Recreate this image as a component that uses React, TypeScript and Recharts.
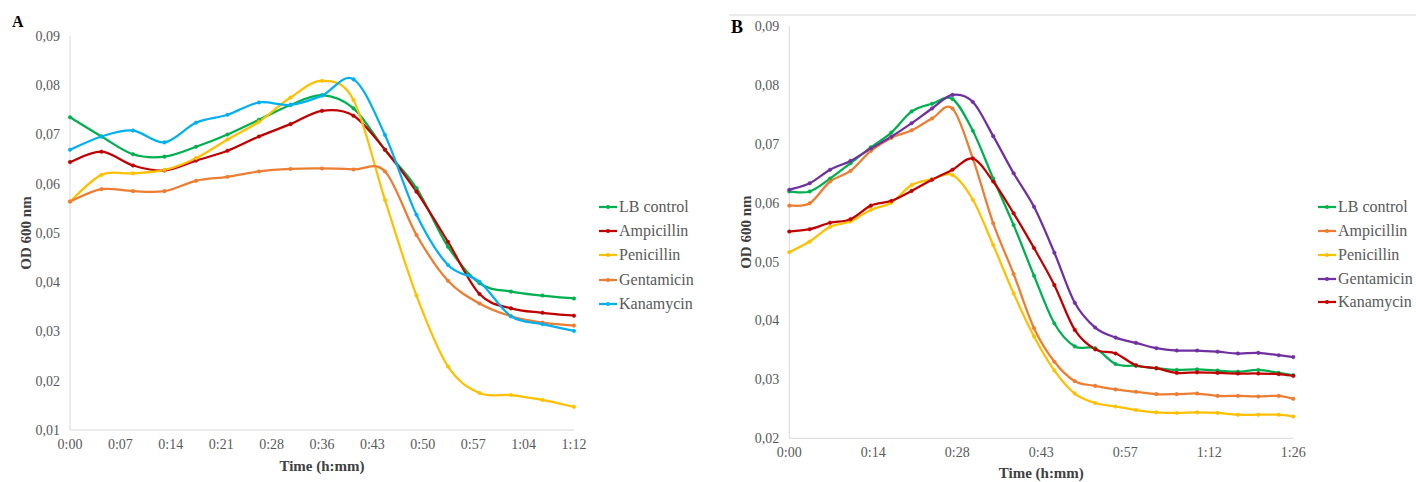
import React from 'react';
import { LineChart, Line, XAxis, YAxis } from 'recharts';

// panel A: sampling every 4.5 min
const timeA = [0, 4.5, 9, 13.5, 18, 22.5, 27, 31.5, 36, 40.5, 45, 49.5, 54, 58.5, 63, 67.5, 72];
const lbControlA = [0.0735, 0.0696, 0.066, 0.0655, 0.0675, 0.07, 0.073, 0.076, 0.078, 0.0753, 0.0669, 0.0591, 0.0472, 0.0398, 0.0381, 0.0373, 0.0367];
const ampicillinA = [0.0644, 0.0665, 0.0637, 0.0627, 0.0647, 0.0667, 0.0696, 0.0721, 0.0748, 0.0738, 0.0669, 0.0584, 0.0482, 0.0376, 0.0347, 0.0338, 0.0332];
const penicillinA = [0.0564, 0.0618, 0.0621, 0.0628, 0.0652, 0.069, 0.0726, 0.0775, 0.0809, 0.077, 0.0567, 0.0373, 0.0229, 0.0175, 0.0171, 0.0161, 0.0147];
const gentamicinA = [0.0564, 0.0589, 0.0585, 0.0585, 0.0606, 0.0614, 0.0625, 0.063, 0.0631, 0.0629, 0.0625, 0.0496, 0.0403, 0.0357, 0.0331, 0.0318, 0.0312];
const kanamycinA = [0.0669, 0.0696, 0.0708, 0.0684, 0.0724, 0.074, 0.0765, 0.076, 0.0779, 0.0812, 0.0699, 0.0537, 0.0435, 0.0401, 0.0331, 0.0315, 0.0301];
const xTicksA = [0, 7.2, 14.4, 21.6, 28.8, 36, 43.2, 50.4, 57.6, 64.8, 72];
const xTickLabelsA = ['0:00', '0:07', '0:14', '0:21', '0:28', '0:36', '0:43', '0:50', '0:57', '1:04', '1:12'];
const yTicksA = [0.01, 0.02, 0.03, 0.04, 0.05, 0.06, 0.07, 0.08, 0.09];

// panel B: sampling every 3.5 min
const timeB = [0, 3.5, 7, 10.5, 14, 17.5, 21, 24.5, 28, 31.5, 35, 38.5, 42, 45.5, 49, 52.5, 56, 59.5, 63, 66.5, 70, 73.5, 77, 80.5, 84, 86.5];
const lbControlB = [0.0619, 0.0619, 0.0641, 0.0667, 0.0694, 0.0719, 0.0755, 0.0768, 0.0776, 0.0722, 0.0641, 0.0562, 0.0476, 0.0395, 0.0356, 0.0353, 0.0326, 0.0323, 0.0319, 0.0316, 0.0317, 0.0315, 0.0313, 0.0316, 0.0311, 0.0307];
const ampicillinB = [0.0595, 0.0599, 0.0636, 0.0654, 0.0688, 0.071, 0.0723, 0.0743, 0.076, 0.0675, 0.0565, 0.0479, 0.0387, 0.033, 0.0297, 0.0289, 0.0283, 0.0279, 0.0275, 0.0275, 0.0276, 0.0272, 0.0272, 0.0271, 0.0272, 0.0267];
const penicillinB = [0.0516, 0.0534, 0.0559, 0.0568, 0.0588, 0.06, 0.063, 0.064, 0.0647, 0.0605, 0.0528, 0.0446, 0.0373, 0.0315, 0.0276, 0.026, 0.0254, 0.0248, 0.0244, 0.0243, 0.0244, 0.0243, 0.024, 0.024, 0.024, 0.0237];
const gentamicinB = [0.0622, 0.0633, 0.0656, 0.0671, 0.0692, 0.0712, 0.0735, 0.076, 0.0783, 0.0771, 0.0713, 0.065, 0.0593, 0.0515, 0.043, 0.0388, 0.0371, 0.0362, 0.0353, 0.0349, 0.0349, 0.0347, 0.0344, 0.0345, 0.0341, 0.0338];
const kanamycinB = [0.0551, 0.0555, 0.0566, 0.0572, 0.0595, 0.0603, 0.062, 0.0639, 0.0656, 0.0675, 0.0636, 0.0582, 0.0523, 0.046, 0.0384, 0.0351, 0.0344, 0.0324, 0.0319, 0.0311, 0.0312, 0.0311, 0.031, 0.031, 0.0309, 0.0306];
const xTicksB = [0, 14.42, 28.83, 43.25, 57.67, 72.08, 86.5];
const xTickLabelsB = ['0:00', '0:14', '0:28', '0:43', '0:57', '1:12', '1:26'];
const yTicksB = [0.02, 0.03, 0.04, 0.05, 0.06, 0.07, 0.08, 0.09];

const seriesNames = ['LB control', 'Ampicillin', 'Penicillin', 'Gentamicin', 'Kanamycin'];
const colorsA = ['#00B050', '#C00000', '#FFC000', '#ED7D31', '#00B0F0'];
const colorsB = ['#00B050', '#ED7D31', '#FFC000', '#7030A0', '#C00000'];

const keys = ['lb', 'amp', 'pen', 'gen', 'kan'];

const rowsA = timeA.map((t, i) => ({
  t, lb: lbControlA[i], amp: ampicillinA[i], pen: penicillinA[i], gen: gentamicinA[i], kan: kanamycinA[i],
}));
const rowsB = timeB.map((t, i) => ({
  t, lb: lbControlB[i], amp: ampicillinB[i], pen: penicillinB[i], gen: gentamicinB[i], kan: kanamycinB[i],
}));

const FONT = '"Liberation Serif", "Times New Roman", serif';
const GREY = '#595959';

// excel-like smoothed line (catmull-rom as bezier)
const excelCurve = (context: any) => {
  let pts: number[][] = [];
  return {
    areaStart() {},
    areaEnd() {},
    lineStart() { pts = []; },
    point(x: number, y: number) { pts.push([+x, +y]); },
    lineEnd() {
      const n = pts.length;
      if (!n) return;
      context.moveTo(pts[0][0], pts[0][1]);
      for (let i = 0; i < n - 1; i++) {
        const p0 = pts[Math.max(i - 1, 0)];
        const p1 = pts[i];
        const p2 = pts[i + 1];
        const p3 = pts[Math.min(i + 2, n - 1)];
        context.bezierCurveTo(
          p1[0] + (p2[0] - p0[0]) / 6, p1[1] + (p2[1] - p0[1]) / 6,
          p2[0] - (p3[0] - p1[0]) / 6, p2[1] - (p3[1] - p1[1]) / 6,
          p2[0], p2[1],
        );
      }
    },
  };
};

const fmtY = (v: number) => v.toFixed(2).replace('.', ',');

const tickStyle = { fontFamily: FONT, fontSize: 14, fill: GREY };
const titleStyle = { fontFamily: FONT, fontSize: 15, fontWeight: 700, fill: '#404040' };

interface PanelProps {
  rows: any[];
  colors: string[];
  xTicks: number[];
  xLabels: string[];
  yTicks: number[];
  left: number;
  width: number;
  margin: { top: number; right: number; left: number; bottom: number };
  xAxisHeight: number;
  xTitleOffset: number;
}

const Panel: React.FC<PanelProps> = ({ rows, colors, xTicks, xLabels, yTicks, left, width, margin, xAxisHeight, xTitleOffset }) => (
  <div style={{ position: 'absolute', left, top: 0 }}>
    <LineChart width={width} height={482} data={rows} margin={margin}>
      <XAxis
        dataKey="t"
        type="number"
        domain={[xTicks[0], xTicks[xTicks.length - 1]]}
        ticks={xTicks}
        tickFormatter={(v: number) => xLabels[xTicks.indexOf(v)] ?? ''}
        tickLine={false}
        tickMargin={3}
        axisLine={{ stroke: '#d9d9d9', strokeWidth: 1 }}
        tick={tickStyle}
        height={xAxisHeight}
        interval={0}
        label={{ value: 'Time (h:mm)', position: 'insideBottom', offset: xTitleOffset, style: titleStyle }}
      />
      <YAxis
        type="number"
        domain={[yTicks[0], yTicks[yTicks.length - 1]]}
        ticks={yTicks}
        tickFormatter={fmtY}
        tickLine={false}
        tickMargin={4}
        axisLine={{ stroke: '#d9d9d9', strokeWidth: 1 }}
        tick={tickStyle}
        width={60}
        interval={0}
        label={{ value: 'OD 600 nm', angle: -90, position: 'insideLeft', offset: 16, style: { ...titleStyle, textAnchor: 'middle' } }}
      />
      {keys.map((k, i) => (
        <Line
          key={k}
          dataKey={k}
          type={excelCurve as any}
          stroke={colors[i]}
          strokeWidth={2.25}
          dot={{ r: 1.8, fill: colors[i], stroke: colors[i], strokeWidth: 0.5 }}
          isAnimationActive={false}
        />
      ))}
    </LineChart>
  </div>
);

const LegendBox: React.FC<{ colors: string[]; left: number; tops: number[] }> = ({ colors, left, tops }) => (
  <>
    {seriesNames.map((name, i) => (
      <div
        key={name}
        style={{
          position: 'absolute', left, top: tops[i] - 10, height: 20, display: 'flex', alignItems: 'center',
          fontFamily: FONT, fontSize: 16, color: GREY, whiteSpace: 'nowrap',
        }}
      >
        <svg width={19} height={8} style={{ marginRight: 1 }}>
          <line x1={0} y1={4} x2={18} y2={4} stroke={colors[i]} strokeWidth={2.25} />
          <circle cx={9} cy={4} r={2} fill={colors[i]} />
        </svg>
        {name}
      </div>
    ))}
  </>
);

export default function App() {
  return (
    <div style={{ position: 'absolute', left: 0, top: 0, width: 1416, height: 482, background: '#fff', overflow: 'hidden' }}>
      <div style={{ position: 'absolute', left: 729, top: 14, width: 687, height: 2, background: '#ebebeb' }} />
      <div style={{ position: 'absolute', left: 12, top: 13, fontFamily: FONT, fontWeight: 700, fontSize: 16, color: '#000' }}>A</div>
      <div style={{ position: 'absolute', left: 731, top: 17, fontFamily: FONT, fontWeight: 700, fontSize: 18, color: '#000' }}>B</div>
      <Panel
        rows={rowsA}
        colors={colorsA}
        xTicks={xTicksA}
        xLabels={xTickLabelsA}
        yTicks={yTicksA}
        left={0}
        width={590}
        margin={{ top: 36, right: 16, left: 10, bottom: 0 }}
        xAxisHeight={52}
        xTitleOffset={11}
      />
      <Panel
        rows={rowsB}
        colors={colorsB}
        xTicks={xTicksB}
        xLabels={xTickLabelsB}
        yTicks={yTicksB}
        left={710}
        width={600}
        margin={{ top: 26, right: 16.7, left: 19.3, bottom: 0 }}
        xAxisHeight={43.7}
        xTitleOffset={4}
      />
      <LegendBox colors={colorsA} left={599} tops={[207, 231, 255, 279.5, 303.5]} />
      <LegendBox colors={colorsB} left={1318} tops={[207, 230.5, 254.5, 278.5, 302]} />
    </div>
  );
}
